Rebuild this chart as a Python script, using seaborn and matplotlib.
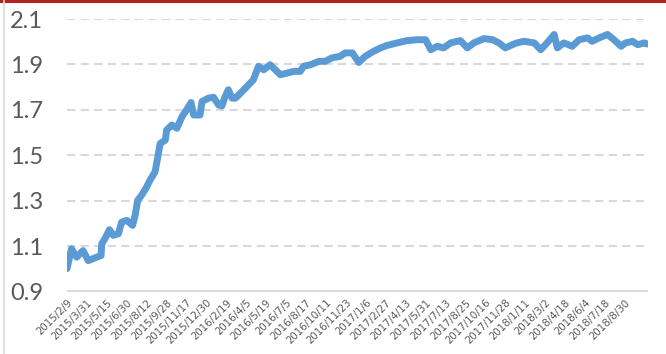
import matplotlib
matplotlib.use("Agg")
import matplotlib.pyplot as plt
from matplotlib.lines import Line2D
import seaborn as sns
import pandas as pd

# trading-day index and net value
day_index = [0, 7, 15, 25, 33, 46, 53, 54, 59, 66, 72, 80, 85, 93, 102, 106, 110,
             116, 124, 129, 137, 141, 145, 153, 155, 163, 171, 179, 186, 193, 197,
             207, 210, 220, 228, 236, 241, 246, 251, 257, 262, 270, 280, 290, 298,
             306, 316, 332, 342, 353, 363, 368, 379, 392, 402, 412, 425, 433, 444,
             454, 464, 477, 488, 498, 514, 529, 545, 558, 566, 576, 586, 597, 612,
             623, 633, 649, 662, 672, 682, 693, 700, 711, 727, 737, 747, 758, 763,
             773, 786, 797, 810, 817, 828, 841, 851, 862, 869, 880, 888, 898, 903]
nav = [1.003, 1.09, 1.053, 1.082, 1.038, 1.053, 1.06, 1.112, 1.134, 1.174, 1.149,
       1.156, 1.207, 1.215, 1.193, 1.237, 1.303, 1.325, 1.362, 1.391, 1.428, 1.49,
       1.553, 1.568, 1.612, 1.634, 1.620, 1.671, 1.70, 1.733, 1.678, 1.678, 1.737,
       1.752, 1.756, 1.722, 1.718, 1.759, 1.789, 1.752, 1.752, 1.774, 1.803, 1.833,
       1.892, 1.877, 1.899, 1.855, 1.862, 1.870, 1.870, 1.892, 1.899, 1.914, 1.914,
       1.929, 1.936, 1.951, 1.951, 1.909, 1.936, 1.958, 1.973, 1.984, 1.995, 2.005,
       2.009, 2.009, 1.965, 1.980, 1.973, 1.995, 2.005, 1.973, 1.995, 2.014, 2.009,
       1.995, 1.973, 1.987, 1.995, 2.002, 1.995, 1.965, 1.995, 2.032, 1.973, 1.995,
       1.980, 2.009, 2.017, 2.002, 2.017, 2.032, 2.009, 1.980, 1.995, 2.002, 1.987,
       1.995, 1.99]

tick_labels = ["2015/2/9", "2015/3/31", "2015/5/15", "2015/6/30", "2015/8/12",
               "2015/9/28", "2015/11/17", "2015/12/30", "2016/2/19", "2016/4/5",
               "2016/5/19", "2016/7/5", "2016/8/17", "2016/10/11", "2016/11/23",
               "2017/1/6", "2017/2/27", "2017/4/13", "2017/5/31", "2017/7/13",
               "2017/8/25", "2017/10/16", "2017/11/28", "2018/1/11", "2018/3/2",
               "2018/4/18", "2018/6/4", "2018/7/18", "2018/8/30"]
tick_step = 31
y_ticks = [0.9, 1.1, 1.3, 1.5, 1.7, 1.9, 2.1]

sns.set_theme(style="white")
plt.rcParams["font.family"] = ["DejaVu Sans"]

df = pd.DataFrame({"day": day_index, "nav": nav})

fig = plt.figure(figsize=(6.66, 3.54), dpi=100)
ax = fig.add_axes([67 / 666, 1 - 292 / 354, (648 - 67) / 666, (292 - 19) / 354])

for yv in y_ticks[1:]:
    ax.axhline(yv, color="#D9D9D9", lw=1.5, linestyle=(0, (4, 2.5)), zorder=0)
ax.axhline(0.9, color="#D9D9D9", lw=2.8, zorder=1)

sns.lineplot(data=df, x="day", y="nav", ax=ax, color="#5B9BD5", linewidth=5.0,
             solid_capstyle="round", solid_joinstyle="round", zorder=3)

ax.set_xlim(0, 904)
ax.set_ylim(0.9, 2.1)
ax.set_yticks(y_ticks)
ax.set_yticklabels([f"{v:.1f}" for v in y_ticks], fontsize=17, color="#595959",
                   family=["Lato", "DejaVu Sans"])
for lbl in ax.get_yticklabels():
    lbl.set_horizontalalignment("left")
ax.tick_params(axis="y", length=0, pad=41)

xt = [i * tick_step for i in range(len(tick_labels))]
ax.set_xticks(xt)
ax.set_xticklabels(tick_labels, rotation=45, ha="right", va="top",
                   rotation_mode="anchor", fontsize=7.4, color="#595959")
ax.tick_params(axis="x", length=0, pad=4)
ax.set_xlabel("")
ax.set_ylabel("")
for s in ax.spines.values():
    s.set_visible(False)
ax.grid(False)

# frame decorations from the screenshot
fig.add_artist(Line2D([0, 1], [1 - 1.2 / 354, 1 - 1.2 / 354], transform=fig.transFigure,
                      color="#B2221E", lw=2.2))
fig.add_artist(Line2D([3.5 / 666, 3.5 / 666], [0, 1], transform=fig.transFigure,
                      color="#D9D9D9", lw=1.2))

fig.savefig("out.png", dpi=100)
